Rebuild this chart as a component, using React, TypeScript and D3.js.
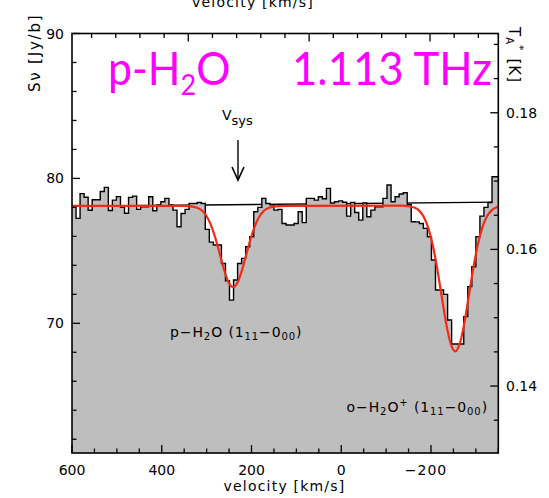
import React from 'react';
import * as d3 from 'd3';

// ---- data ----
const V_START = 600; // km/s, left edge of first channel
const CHAN_WIDTH = 9; // km/s per channel
const fluxJy = [
  78.10, 77.24, 78.95, 78.70, 77.80, 78.53, 78.53, 79.10, 79.38, 77.78,
  78.50, 78.74, 78.00, 77.60, 78.69, 78.78, 77.86, 78.04, 78.04, 78.73,
  77.77, 78.16, 78.39, 78.62, 78.16, 77.81, 76.66, 77.58, 77.86, 78.27,
  78.27, 78.34, 78.27, 76.48, 75.60, 75.40, 75.40, 74.13, 72.94, 71.60,
  72.99, 74.13, 74.48, 75.28, 75.97, 77.70, 78.00, 78.62, 78.27, 78.18,
  77.81, 77.86, 76.89, 76.78, 76.78, 76.89, 77.70, 76.95, 78.62, 78.62,
  78.50, 78.73, 78.60, 79.31, 78.30, 78.39, 78.45, 78.35, 77.40, 78.34,
  77.65, 77.12, 78.30, 77.35, 77.81, 78.04, 78.04, 78.62, 79.54, 78.39,
  78.73, 78.92, 79.01, 78.20, 77.01, 77.00, 76.89, 76.55, 75.97, 74.37,
  72.30, 72.30, 72.00, 70.23, 68.57, 68.57, 68.57, 70.46, 72.53, 73.90,
  75.97, 77.40, 78.00, 78.34, 80.11, 80.11,
];

const fitVelocity = [
  600, 360, 341, 321, 311, 301, 291, 281, 271, 261, 251, 241, 231, 221, 211, 201,
  191, 181, 171, 161, 141, 120, -134, -154, -164, -174, -184, -194, -204, -214,
  -224, -234, -244, -254, -264, -274, -284, -294, -304, -314, -324, -334, -344, -354,
];
const fitFlux = [
  78.10, 78.10, 78.09, 77.98, 77.80, 77.44, 76.83, 75.94, 74.82, 73.69, 72.82, 72.50,
  72.82, 73.69, 74.82, 75.94, 76.83, 77.44, 77.80, 77.98, 78.09, 78.10, 78.12, 78.06,
  77.97, 77.76, 77.34, 76.57, 75.39, 73.75, 71.83, 69.96, 68.58, 68.07, 68.58, 69.96,
  71.83, 73.75, 75.39, 76.57, 77.34, 77.76, 77.97, 78.06,
];

const baselineVelocity = [600, -350];
const baselineFlux = [78.08, 78.36];

const velDomain = [600, -350];
const fluxDomain = [61.05, 90];
const tempDomain = [0.1302, 0.1916];
const freqDomain = [1066.038, 1069.565];

const velMajor = [600, 400, 200, 0, -200];
const velLabels = ['600', '400', '200', '0', '\u2212200'];
const fluxMajor = [90, 80, 70];
const tempMajor = [0.18, 0.16, 0.14];
const tempLabels = ['0.18', '0.16', '0.14'];
const freqMajor = [1067, 1068, 1069];

export default function App() {
  const L = 72, R = 498.3, T = 33.5, B = 453;
  const x = d3.scaleLinear().domain(velDomain).range([L, R]);
  const yS = d3.scaleLinear().domain(fluxDomain).range([B, T]);
  const yT = d3.scaleLinear().domain(tempDomain).range([B, T]);
  const xF = d3.scaleLinear().domain(freqDomain).range([L, R]);

  const hist: [number, number][] = fluxJy.map((s, i) => [V_START - i * CHAN_WIDTH, s]);
  hist.push([V_START - fluxJy.length * CHAN_WIDTH, fluxJy[fluxJy.length - 1]]);

  const area = d3.area<[number, number]>()
    .x(d => x(d[0])).y0(B).y1(d => yS(d[1])).curve(d3.curveStepAfter);
  const step = d3.line<[number, number]>()
    .x(d => x(d[0])).y(d => yS(d[1])).curve(d3.curveStepAfter);
  const fitPts: [number, number][] = fitVelocity.map((v, i) => [v, fitFlux[i]]);
  const fitLine = d3.line<[number, number]>()
    .x(d => x(d[0])).y(d => yS(d[1])).curve(d3.curveMonotoneX);
  const basePts: [number, number][] = baselineVelocity.map((v, i) => [v, baselineFlux[i]]);
  const baseLine = d3.line<[number, number]>().x(d => x(d[0])).y(d => yS(d[1]));

  const velMinor = d3.range(-350, 601, 50).filter(v => !velMajor.includes(v));
  const fluxMinor = d3.range(62, 91, 2).filter(v => !fluxMajor.includes(v));
  const tempMinor = d3.range(27, 39).map(k => k * 0.005).filter(t => !tempMajor.some(m => Math.abs(m - t) < 1e-6));
  const freqMinor = d3.range(0, 18).map(k => 1066.2 + 0.2 * k).filter(f => !freqMajor.some(m => Math.abs(m - f) < 1e-6) && f <= freqDomain[1]);

  const MAJ = 8, MIN = 4.5;
  const axisFont = "'DejaVu Sans', sans-serif";
  const tickStyle = { stroke: '#000', strokeWidth: 1.3 };

  return (
    <svg width={549} height={498} style={{ position: 'absolute', left: 0, top: 0, background: '#fff' }}
      fontFamily={axisFont}>
      <defs>
        <clipPath id="plotclip"><rect x={L} y={T} width={R - L} height={B - T} /></clipPath>
      </defs>

      {/* top axis label (of the panel above, cut off as in the reference) */}
      <text x={253} y={6.5} textAnchor="middle" fontSize={14} letterSpacing={1.2}>velocity  [km/s]</text>

      <g clipPath="url(#plotclip)">
        <path d={baseLine(basePts) || ''} fill="none" stroke="#000" strokeWidth={1.3} />
        <path d={area(hist) || ''} fill="#bebebe" stroke="none" />
        <path d={step(hist) || ''} fill="none" stroke="#000" strokeWidth={1.4} />
        <path d={fitLine(fitPts) || ''} fill="none" stroke="#f52a16" strokeWidth={2.2} />
      </g>

      {/* frame */}
      <rect x={L} y={T} width={R - L} height={B - T} fill="none" stroke="#000" strokeWidth={1.6} />

      {/* bottom velocity ticks */}
      {velMajor.map(v => <line key={'bM' + v} x1={x(v)} x2={x(v)} y1={B} y2={B - MAJ} style={tickStyle} />)}
      {velMinor.map(v => <line key={'bm' + v} x1={x(v)} x2={x(v)} y1={B} y2={B - MIN} style={tickStyle} />)}
      {velMajor.map((v, i) => (
        <text key={'bl' + v} x={x(v) - (v < 0 ? 5 : 0)} y={475} textAnchor="middle" fontSize={14}
          letterSpacing={v < 0 ? 1 : 0}>{velLabels[i]}</text>
      ))}
      <text x={284.5} y={491} textAnchor="middle" fontSize={14} letterSpacing={1.2}>velocity  [km/s]</text>

      {/* top frequency ticks */}
      {freqMajor.map(f => <line key={'tM' + f} x1={xF(f)} x2={xF(f)} y1={T} y2={T + MAJ} style={tickStyle} />)}
      {freqMinor.map(f => <line key={'tm' + f} x1={xF(f)} x2={xF(f)} y1={T} y2={T + MIN} style={tickStyle} />)}

      {/* left flux ticks */}
      {fluxMajor.map(s => <line key={'lM' + s} x1={L} x2={L + MAJ} y1={yS(s)} y2={yS(s)} style={tickStyle} />)}
      {fluxMinor.map(s => <line key={'lm' + s} x1={L} x2={L + MIN} y1={yS(s)} y2={yS(s)} style={tickStyle} />)}
      {fluxMajor.map(s => (
        <text key={'ll' + s} x={64} y={yS(s) + 5} textAnchor="end" fontSize={14}>{s}</text>
      ))}
      <text transform="translate(40,92) rotate(-90)" fontSize={15} letterSpacing={1.8}>S&#957;  [Jy/b]</text>

      {/* right temperature ticks */}
      {tempMajor.map(t => <line key={'rM' + t} x1={R} x2={R - MAJ} y1={yT(t)} y2={yT(t)} style={tickStyle} />)}
      {tempMinor.map(t => <line key={'rm' + t} x1={R} x2={R - MIN} y1={yT(t)} y2={yT(t)} style={tickStyle} />)}
      {tempMajor.map((t, i) => (
        <text key={'rl' + t} x={506} y={yT(t) + 5} fontSize={14}>{tempLabels[i]}</text>
      ))}
      <text transform="translate(509,27) rotate(90)" fontSize={15} letterSpacing={1}>
        T<tspan fontSize={10} dy={3}>A</tspan><tspan fontSize={11} dy={-10}>*</tspan><tspan dy={7} dx={7}>[K]</tspan>
      </text>

      {/* title */}
      <g transform="translate(108,85) scale(0.93,1)" fill="#ff00ff" fontFamily="Lato, 'Open Sans', sans-serif">
        <text fontSize={46}>p-H<tspan fontSize={29} dy={10}>2</tspan><tspan dy={-10}>O</tspan></text>
      </g>
      <g transform="translate(292,85) scale(0.95,1)" fill="#ff00ff" fontFamily="Lato, 'Open Sans', sans-serif">
        <text fontSize={46}>1.113 THz</text>
      </g>

      {/* Vsys */}
      <text x={222} y={120} fontSize={14}>V<tspan fontSize={13} dy={5}>sys</tspan></text>
      <line x1={238} x2={238} y1={140} y2={179} stroke="#000" strokeWidth={1.4} />
      <path d="M232,167 L238,180 L244,167" fill="none" stroke="#000" strokeWidth={1.6} />

      {/* line labels */}
      <text x={170} y={337} fontSize={14} letterSpacing={0.9}>
        p&#8722;H<tspan fontSize={10} dy={3}>2</tspan><tspan dy={-3}>O (1</tspan>
        <tspan fontSize={10} dy={3}>11</tspan><tspan dy={-3}>&#8722;0</tspan>
        <tspan fontSize={10} dy={3}>00</tspan><tspan dy={-3}>)</tspan>
      </text>
      <text x={488} y={412} fontSize={14} letterSpacing={0.9} textAnchor="end">
        o&#8722;H<tspan fontSize={10} dy={3}>2</tspan><tspan dy={-3}>O</tspan>
        <tspan fontSize={10} dy={-6}>+</tspan><tspan dy={6}> (1</tspan>
        <tspan fontSize={10} dy={3}>11</tspan><tspan dy={-3}>&#8722;0</tspan>
        <tspan fontSize={10} dy={3}>00</tspan><tspan dy={-3}>)</tspan>
      </text>
    </svg>
  );
}
